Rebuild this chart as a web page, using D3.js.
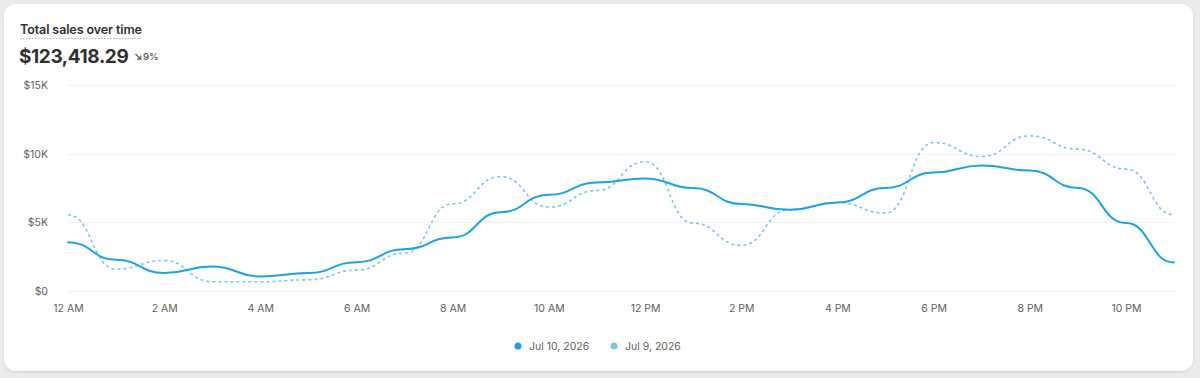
<!DOCTYPE html>
<html>
<head>
<meta charset="utf-8">
<script src="https://cdn.jsdelivr.net/npm/d3@7"></script>
<style>
  html, body { margin: 0; padding: 0; background: #ebebeb; }
  body { width: 1200px; height: 378px; overflow: hidden; font-family: Inter, "Noto Sans", sans-serif; }
</style>
</head>
<body>
<svg id="chart" width="1200" height="378"></svg>
<script>
// hourly sales, 12 AM .. 11 PM
const hours = d3.range(24);
const salesJul10 = [3530, 2240, 1270, 1750, 1020, 1270, 2070, 3020, 3870, 5720, 6990, 7880,
  8180, 7480, 6310, 5890, 6420, 7480, 8610, 9120, 8760, 7480, 4920, 2040];
const salesJul9 = [5530, 1560, 2190, 640, 640, 780, 1490, 2730, 6330, 8320, 6090, 7300,
  9400, 4920, 3290, 5890, 6420, 5650, 10800, 9780, 11290, 10320, 8860, 5530];
const yTicks = [0, 5000, 10000, 15000];
const xTickHours = [0, 2, 4, 6, 8, 10, 12, 14, 16, 18, 20, 22];
const xTickLabels = ["12 AM", "2 AM", "4 AM", "6 AM", "8 AM", "10 AM", "12 PM", "2 PM", "4 PM", "6 PM", "8 PM", "10 PM"];
const seriesNames = ["Jul 10, 2026", "Jul 9, 2026"];
const seriesColors = ["#1fa1e3", "#7ec5e8"];

const svg = d3.select('#chart');

// card
const defs = svg.append('defs');
const shadow = defs.append('filter').attr('id', 'shadow').attr('x', '-5%').attr('y', '-5%').attr('width', '110%').attr('height', '115%');
shadow.append('feDropShadow').attr('dx', 0).attr('dy', 1).attr('stdDeviation', 1)
  .attr('flood-color', '#000').attr('flood-opacity', 0.12);
svg.append('rect')
  .attr('x', 4).attr('y', 4).attr('width', 1189).attr('height', 367)
  .attr('rx', 12).attr('fill', '#fff').attr('filter', 'url(#shadow)');

// header
svg.append('text')
  .attr('x', 20).attr('y', 34)
  .attr('font-size', 12.5).attr('font-weight', 600).attr('fill', '#303030')
  .attr('letter-spacing', -0.1)
  .text('Total sales over time');
svg.append('line')
  .attr('x1', 20).attr('x2', 141).attr('y1', 38.5).attr('y2', 38.5)
  .attr('stroke', '#b5b5b5').attr('stroke-width', 1).attr('stroke-dasharray', '1.5,1.5');
svg.append('text')
  .attr('x', 19).attr('y', 63)
  .attr('font-size', 19).attr('font-weight', 650).attr('fill', '#303030')
  .attr('letter-spacing', -0.4)
  .text('$123,418.29');
// small down arrow
svg.append('path')
  .attr('d', 'M135.5,54 L140.5,59 M137,59.2 L140.7,59.2 L140.7,55.5')
  .attr('fill', 'none').attr('stroke', '#616161').attr('stroke-width', 1.3);
svg.append('text')
  .attr('x', 143).attr('y', 60)
  .attr('font-size', 9.5).attr('font-weight', 600).attr('fill', '#616161')
  .text('9%');

// scales
const x = d3.scaleLinear().domain([0, 23]).range([68, 1174]);
const y = d3.scaleLinear().domain([0, 15000]).range([290.5, 85]);

// y axis
const yAxis = svg.append('g').attr('transform', 'translate(48,0)')
  .call(d3.axisLeft(y).tickValues(yTicks).tickSize(0).tickPadding(0)
    .tickFormat(d => d === 0 ? '$0' : '$' + d / 1000 + 'K'));
yAxis.select('.domain').remove();
yAxis.selectAll('text').attr('font-size', 10.5).attr('fill', '#616161')
  .attr('font-family', 'Inter, sans-serif').attr('dy', '0.35em');

// grid
svg.append('g').selectAll('line').data(yTicks).join('line')
  .attr('x1', 68).attr('x2', 1175)
  .attr('y1', d => Math.round(y(d)) + 0.5).attr('y2', d => Math.round(y(d)) + 0.5)
  .attr('stroke', '#f0f0f0').attr('stroke-width', 1);

// x axis
const xAxis = svg.append('g').attr('transform', 'translate(0,305)')
  .call(d3.axisBottom(x).tickValues(xTickHours).tickSize(0).tickPadding(0)
    .tickFormat((d, i) => xTickLabels[i]));
xAxis.select('.domain').remove();
xAxis.selectAll('text').attr('font-size', 10.5).attr('fill', '#616161')
  .attr('font-family', 'Inter, sans-serif').attr('dy', '0.71em');

// lines
const line = d3.line()
  .x((d, i) => x(hours[i]))
  .y(d => y(d))
  .curve(d3.curveBumpX);

svg.append('path')
  .datum(salesJul9)
  .attr('d', line)
  .attr('fill', 'none')
  .attr('stroke', seriesColors[1])
  .attr('stroke-width', 1.6)
  .attr('stroke-dasharray', '3,3');

svg.append('path')
  .datum(salesJul10)
  .attr('d', line)
  .attr('fill', 'none')
  .attr('stroke', seriesColors[0])
  .attr('stroke-width', 2)
  .attr('stroke-linecap', 'round');

// legend
const legendPos = [518, 614];
const legend = svg.append('g').selectAll('g').data(seriesNames).join('g')
  .attr('transform', (d, i) => `translate(${legendPos[i]},346)`);
legend.append('circle').attr('r', 3.5).attr('fill', (d, i) => seriesColors[i]);
legend.append('text')
  .attr('x', 11).attr('dy', '0.35em')
  .attr('font-size', 10.5).attr('fill', '#616161')
  .text(d => d);
</script>
</body>
</html>
